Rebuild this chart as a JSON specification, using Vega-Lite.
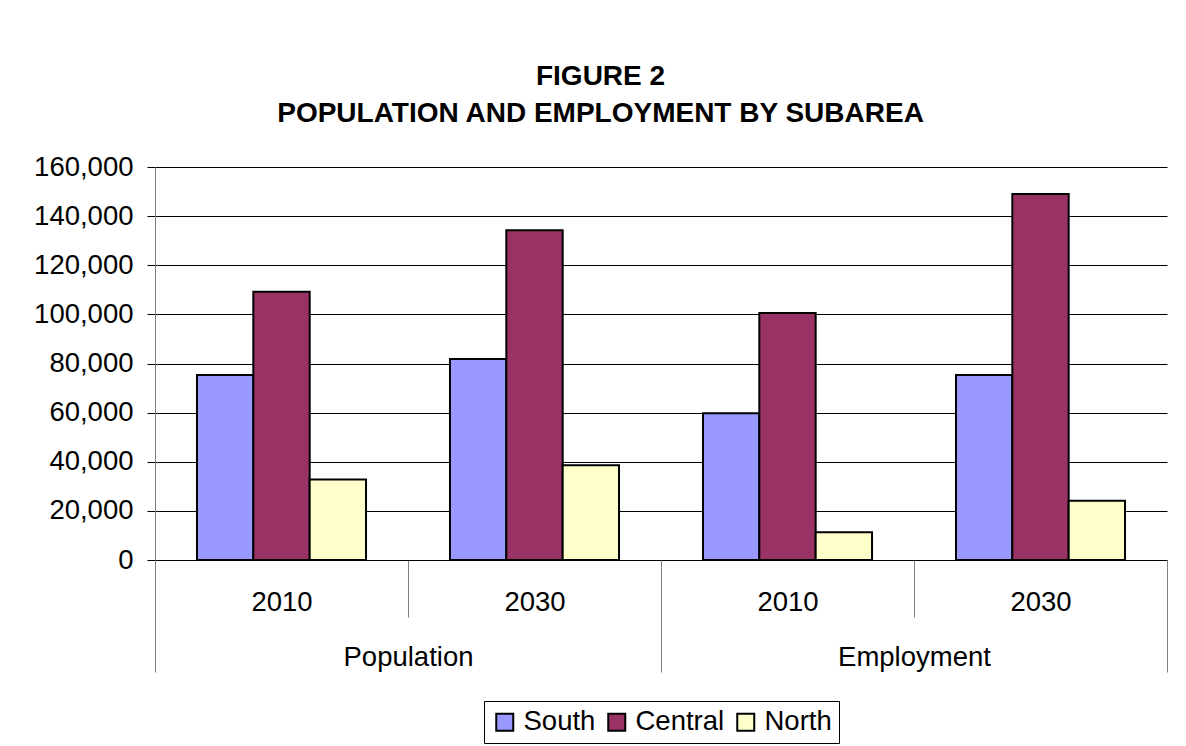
{
  "$schema": "https://vega.github.io/schema/vega-lite/v6.json",
  "autosize": "none",
  "width": 1012,
  "height": 393,
  "padding": {"left": 155, "top": 167, "right": 19, "bottom": 186},
  "background": "white",
  "config": {
    "font": "Liberation Sans",
    "view": {"stroke": null},
    "title": {"font": "Liberation Sans", "fontSize": 28, "fontWeight": "bold", "color": "black", "lineHeight": 37, "anchor": "middle", "frame": "bounds", "offset": 25}
  },
  "title": {"text": ["FIGURE 2", "POPULATION AND EMPLOYMENT BY SUBAREA"]},
  "data": {
    "values": [
      {"group": "Population 2010", "measure": "Population", "year": "2010", "subarea": "South", "value": 75300},
      {"group": "Population 2010", "measure": "Population", "year": "2010", "subarea": "Central", "value": 109200},
      {"group": "Population 2010", "measure": "Population", "year": "2010", "subarea": "North", "value": 32800},
      {"group": "Population 2030", "measure": "Population", "year": "2030", "subarea": "South", "value": 81800},
      {"group": "Population 2030", "measure": "Population", "year": "2030", "subarea": "Central", "value": 134300},
      {"group": "Population 2030", "measure": "Population", "year": "2030", "subarea": "North", "value": 38600},
      {"group": "Employment 2010", "measure": "Employment", "year": "2010", "subarea": "South", "value": 59700},
      {"group": "Employment 2010", "measure": "Employment", "year": "2010", "subarea": "Central", "value": 100600},
      {"group": "Employment 2010", "measure": "Employment", "year": "2010", "subarea": "North", "value": 11300},
      {"group": "Employment 2030", "measure": "Employment", "year": "2030", "subarea": "South", "value": 75300},
      {"group": "Employment 2030", "measure": "Employment", "year": "2030", "subarea": "Central", "value": 149000},
      {"group": "Employment 2030", "measure": "Employment", "year": "2030", "subarea": "North", "value": 24100}
    ]
  },
  "layer": [
    {
      "mark": {"type": "bar", "stroke": "black", "strokeWidth": 2},
      "encoding": {
        "x": {
          "field": "group", "type": "nominal",
          "sort": ["Population 2010", "Population 2030", "Employment 2010", "Employment 2030"],
          "scale": {"paddingInner": 0, "paddingOuter": 0},
          "axis": {
            "orient": "bottom", "title": null, "labelAngle": 0,
            "labelExpr": "slice(datum.label, -4)",
            "labelFontSize": 27.5, "labelColor": "black", "labelPadding": -29,
            "domain": true, "domainColor": "black", "domainWidth": 1,
            "ticks": true, "tickColor": "#808080", "tickWidth": 1, "tickSize": 57, "tickBand": "extent",
            "grid": false
          }
        },
        "xOffset": {
          "field": "subarea", "type": "nominal",
          "sort": ["South", "Central", "North"],
          "scale": {"paddingInner": 0, "paddingOuter": 0.745}
        },
        "y": {
          "field": "value", "type": "quantitative",
          "scale": {"domain": [0, 160000], "nice": false},
          "axis": {
            "title": null, "values": [0, 20000, 40000, 60000, 80000, 100000, 120000, 140000, 160000],
            "format": ",d", "labelFontSize": 27.5, "labelColor": "black", "labelPadding": 14,
            "domain": true, "domainColor": "#808080", "domainWidth": 1,
            "ticks": true, "tickColor": "black", "tickSize": 8, "tickWidth": 1,
            "grid": true, "gridColor": "black", "gridWidth": 1, "gridOpacity": 1
          }
        },
        "fill": {
          "field": "subarea", "type": "nominal",
          "sort": ["South", "Central", "North"],
          "scale": {"domain": ["South", "Central", "North"], "range": ["#9999FF", "#993366", "#FFFFCC"]},
          "legend": {
            "orient": "none", "legendX": 329, "legendY": 534, "direction": "horizontal", "title": null,
            "padding": 7, "strokeColor": "black", "fillColor": "white",
            "symbolType": "square", "symbolSize": 289, "symbolStrokeColor": "black", "symbolStrokeWidth": 2, "symbolOpacity": 1,
            "labelFontSize": 27.5, "labelColor": "black", "labelOffset": 5, "columnPadding": 7
          }
        }
      }
    },
    {
      "mark": {"type": "point", "opacity": 0},
      "encoding": {
        "x": {
          "field": "measure", "type": "nominal",
          "sort": ["Population", "Employment"],
          "scale": {"type": "band", "paddingInner": 0, "paddingOuter": 0},
          "axis": {
            "orient": "bottom", "title": null, "labelAngle": 0,
            "labelFontSize": 27.5, "labelColor": "black", "labelPadding": -29,
            "domain": false,
            "ticks": true, "tickColor": "#808080", "tickWidth": 1, "tickSize": 112, "tickBand": "extent",
            "grid": false
          }
        },
        "y": {"field": "value", "type": "quantitative"}
      }
    }
  ],
  "resolve": {"scale": {"x": "independent"}, "axis": {"x": "independent"}}
}
